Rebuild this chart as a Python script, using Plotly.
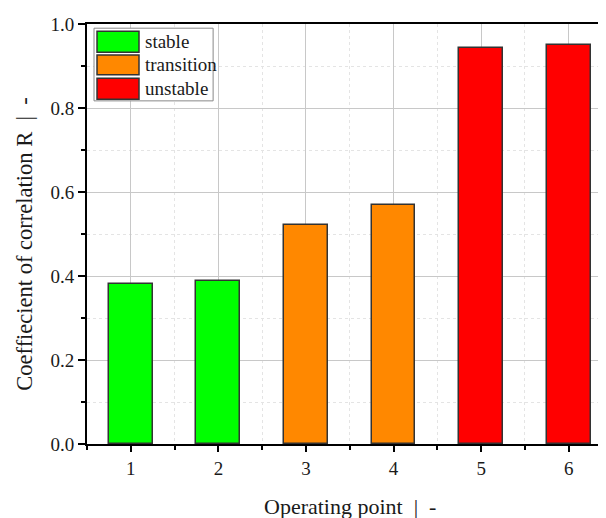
import plotly.graph_objects as go

categories = ["stable", "transition", "unstable"]
colors = ["#00FF00", "#FF8800", "#FF0000"]
points = [[1, 2], [3, 4], [5, 6]]
values = [[0.380, 0.387], [0.521, 0.569], [0.943, 0.949]]
x_ticks = [1, 2, 3, 4, 5, 6]
y_ticks = [0.0, 0.2, 0.4, 0.6, 0.8, 1.0]
x_title = "Operating point  |  -"
y_title = "Coeffiecient of correlation R  |  -"

FONT = "Liberation Serif"
TXT = "#1a1a1a"

fig = go.Figure()
for name, col, xs, ys in zip(categories, colors, points, values):
    fig.add_trace(go.Bar(
        x=xs, y=ys, name=name, width=0.5,
        marker=dict(color=col, line=dict(color="#333333", width=1.5)),
        showlegend=False,
    ))

# custom legend (large swatches like the original)
shapes = [dict(type="rect", xref="paper", yref="paper", x0=0.0135, x1=0.243,
               y0=0.817, y1=0.990, line=dict(color="#888888", width=1),
               fillcolor="white", layer="above")]
annotations = []
rows = [(0.933, 0.983), (0.879, 0.926), (0.821, 0.871)]
for (y0, y1), name, col in zip(rows, categories, colors):
    shapes.append(dict(type="rect", xref="paper", yref="paper", x0=0.0193, x1=0.1002,
                       y0=y0, y1=y1, line=dict(color="#333333", width=1.5),
                       fillcolor=col, layer="above"))
    annotations.append(dict(xref="paper", yref="paper", x=0.108, y=(y0 + y1) / 2,
                            text=name, showarrow=False, xanchor="left", yanchor="middle",
                            font=dict(family=FONT, size=19, color=TXT)))

# axis titles
annotations.append(dict(xref="paper", yref="paper", x=0.507, y=-0.148, text=x_title,
                        showarrow=False, xanchor="center", yanchor="middle",
                        font=dict(family=FONT, size=22, color=TXT)))
annotations.append(dict(xref="paper", yref="paper", x=-0.121, y=0.475, text=y_title,
                        showarrow=False, xanchor="center", yanchor="middle", textangle=-90,
                        font=dict(family=FONT, size=22.5, color=TXT)))

# page body has an 8px margin, so the figure is sized to fit the 606x518 window
fig.update_layout(
    width=598, height=510,
    margin=dict(l=79, r=0, t=16, b=74, autoexpand=False),
    paper_bgcolor="white", plot_bgcolor="white",
    font=dict(family=FONT, size=18, color=TXT),
    shapes=shapes, annotations=annotations,
    bargap=0,
)
fig.update_xaxes(
    range=[0.5, 6.425], tickvals=x_ticks, ticktext=[str(v) for v in x_ticks],
    showline=True, linecolor="black", linewidth=2, mirror=True,
    ticks="outside", ticklen=6, tickwidth=1.5, tickcolor="black",
    showgrid=True, gridcolor="#c8c8c8", gridwidth=1,
    minor=dict(dtick=0.5, tick0=0.5, ticks="outside", ticklen=4, tickcolor="black",
               showgrid=True, gridcolor="#e4e4e4", griddash="dot", gridwidth=1),
    tickfont=dict(size=19), zeroline=False, automargin=False,
)
fig.update_yaxes(
    range=[0, 1.0], tickvals=y_ticks, ticktext=[f"{v:.1f}" for v in y_ticks],
    showline=True, linecolor="black", linewidth=2,
    ticks="outside", ticklen=7, tickwidth=1.5, tickcolor="black",
    showgrid=True, gridcolor="#c8c8c8", gridwidth=1,
    minor=dict(dtick=0.1, tick0=0, ticks="outside", ticklen=4, tickcolor="black",
               showgrid=True, gridcolor="#e4e4e4", griddash="dot", gridwidth=1),
    tickfont=dict(size=19), zeroline=False, automargin=False,
)

fig.write_html("out.html")
